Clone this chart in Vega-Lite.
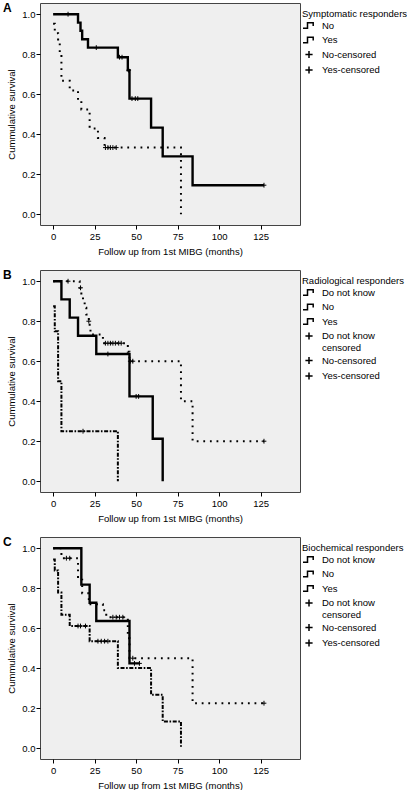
{
  "$schema": "https://vega.github.io/schema/vega-lite/v6.json",
  "padding": {"left": 2, "top": 1, "right": 0, "bottom": 0},
  "background": "white",
  "spacing": 12,
  "config": {
    "font": "Liberation Sans",
    "view": {"fill": "#efefef", "stroke": "#444444", "strokeWidth": 1},
    "axis": {"grid": false, "domain": false, "tickColor": "#000000", "tickSize": 4, "labelColor": "#000000", "titleColor": "#000000", "labelFontSize": 9.5, "titleFontSize": 9.5, "titleFontWeight": "normal", "labelFont": "Liberation Sans", "titleFont": "Liberation Sans"},
    "axisX": {"labelPadding": 2.5, "titlePadding": 5},
    "axisY": {"labelPadding": 1, "titlePadding": 5},
    "title": {"anchor": "start", "frame": "group", "offset": -12, "dx": -37, "baseline": "top", "fontSize": 12, "fontWeight": "bold", "font": "Liberation Sans", "color": "#000000"},
    "legend": {"titleFontSize": 9.5, "titleFontWeight": "normal", "titleColor": "#000000", "labelFontSize": 9.5, "labelColor": "#000000", "titlePadding": 0, "rowPadding": 1.5, "labelOffset": 6, "labelLimit": 200, "titleLimit": 200, "symbolSize": 144, "symbolStrokeColor": "#000000", "orient": "right", "offset": -4, "padding": 6}
  },
  "datasets": {
    "km": [
      {"p":"A","g":"No","k":"s","t":0,"s":0.952},{"p":"A","g":"No","k":"s","t":1,"s":0.905},{"p":"A","g":"No","k":"s","t":3,"s":0.857},{"p":"A","g":"No","k":"s","t":4,"s":0.81},{"p":"A","g":"No","k":"s","t":5,"s":0.667},{"p":"A","g":"No","k":"s","t":10,"s":0.619},{"p":"A","g":"No","k":"s","t":15,"s":0.571},{"p":"A","g":"No","k":"s","t":17,"s":0.524},{"p":"A","g":"No","k":"s","t":22,"s":0.429},{"p":"A","g":"No","k":"s","t":27,"s":0.381},{"p":"A","g":"No","k":"s","t":31,"s":0.333},{"p":"A","g":"No","k":"s","t":77,"s":0},
      {"p":"A","g":"Yes","k":"s","t":0,"s":1},{"p":"A","g":"Yes","k":"s","t":15,"s":0.958},{"p":"A","g":"Yes","k":"s","t":16.5,"s":0.917},{"p":"A","g":"Yes","k":"s","t":17.5,"s":0.875},{"p":"A","g":"Yes","k":"s","t":21,"s":0.833},{"p":"A","g":"Yes","k":"s","t":39,"s":0.785},{"p":"A","g":"Yes","k":"s","t":45,"s":0.72},{"p":"A","g":"Yes","k":"s","t":46,"s":0.578},{"p":"A","g":"Yes","k":"s","t":59,"s":0.433},{"p":"A","g":"Yes","k":"s","t":66,"s":0.289},{"p":"A","g":"Yes","k":"s","t":84,"s":0.145},{"p":"A","g":"Yes","k":"s","t":127,"s":0.145},
      {"p":"A","g":"No-censored","k":"c","t":31.5,"s":0.333},{"p":"A","g":"No-censored","k":"c","t":33,"s":0.333},{"p":"A","g":"No-censored","k":"c","t":34.5,"s":0.333},{"p":"A","g":"No-censored","k":"c","t":36,"s":0.333},{"p":"A","g":"No-censored","k":"c","t":38,"s":0.333},
      {"p":"A","g":"Yes-censored","k":"c","t":9,"s":1},{"p":"A","g":"Yes-censored","k":"c","t":26,"s":0.833},{"p":"A","g":"Yes-censored","k":"c","t":40,"s":0.785},{"p":"A","g":"Yes-censored","k":"c","t":41.5,"s":0.785},{"p":"A","g":"Yes-censored","k":"c","t":45.5,"s":0.72},{"p":"A","g":"Yes-censored","k":"c","t":47.5,"s":0.578},{"p":"A","g":"Yes-censored","k":"c","t":49.5,"s":0.578},{"p":"A","g":"Yes-censored","k":"c","t":51,"s":0.578},{"p":"A","g":"Yes-censored","k":"c","t":127,"s":0.145},

      {"p":"B","g":"Do not know","k":"s","t":0,"s":0.875},{"p":"B","g":"Do not know","k":"s","t":1,"s":0.75},{"p":"B","g":"Do not know","k":"s","t":3,"s":0.5},{"p":"B","g":"Do not know","k":"s","t":5,"s":0.25},{"p":"B","g":"Do not know","k":"s","t":39,"s":0},
      {"p":"B","g":"No","k":"s","t":0,"s":1},{"p":"B","g":"No","k":"s","t":16,"s":0.967},{"p":"B","g":"No","k":"s","t":17,"s":0.933},{"p":"B","g":"No","k":"s","t":18,"s":0.9},{"p":"B","g":"No","k":"s","t":19,"s":0.867},{"p":"B","g":"No","k":"s","t":20,"s":0.833},{"p":"B","g":"No","k":"s","t":21.5,"s":0.8},{"p":"B","g":"No","k":"s","t":22,"s":0.767},{"p":"B","g":"No","k":"s","t":22.5,"s":0.733},{"p":"B","g":"No","k":"s","t":30,"s":0.69},{"p":"B","g":"No","k":"s","t":45,"s":0.647},{"p":"B","g":"No","k":"s","t":46,"s":0.6},{"p":"B","g":"No","k":"s","t":77,"s":0.4},{"p":"B","g":"No","k":"s","t":84,"s":0.2},{"p":"B","g":"No","k":"s","t":127,"s":0.2},
      {"p":"B","g":"Yes","k":"s","t":0,"s":1},{"p":"B","g":"Yes","k":"s","t":5,"s":0.909},{"p":"B","g":"Yes","k":"s","t":10,"s":0.818},{"p":"B","g":"Yes","k":"s","t":15,"s":0.727},{"p":"B","g":"Yes","k":"s","t":26,"s":0.636},{"p":"B","g":"Yes","k":"s","t":46,"s":0.424},{"p":"B","g":"Yes","k":"s","t":60,"s":0.212},{"p":"B","g":"Yes","k":"s","t":66,"s":0},
      {"p":"B","g":"Do not know censored","k":"c","t":18,"s":0.25},
      {"p":"B","g":"No-censored","k":"c","t":9,"s":1},{"p":"B","g":"No-censored","k":"c","t":16.5,"s":0.967},{"p":"B","g":"No-censored","k":"c","t":21.5,"s":0.8},{"p":"B","g":"No-censored","k":"c","t":31.5,"s":0.69},{"p":"B","g":"No-censored","k":"c","t":33,"s":0.69},{"p":"B","g":"No-censored","k":"c","t":34.5,"s":0.69},{"p":"B","g":"No-censored","k":"c","t":36,"s":0.69},{"p":"B","g":"No-censored","k":"c","t":37.5,"s":0.69},{"p":"B","g":"No-censored","k":"c","t":39.5,"s":0.69},{"p":"B","g":"No-censored","k":"c","t":41,"s":0.69},{"p":"B","g":"No-censored","k":"c","t":46.5,"s":0.6},{"p":"B","g":"No-censored","k":"c","t":48,"s":0.6},{"p":"B","g":"No-censored","k":"c","t":127,"s":0.2},
      {"p":"B","g":"Yes-censored","k":"c","t":33,"s":0.636},{"p":"B","g":"Yes-censored","k":"c","t":50,"s":0.424},{"p":"B","g":"Yes-censored","k":"c","t":51.5,"s":0.424},

      {"p":"C","g":"Do not know","k":"s","t":0,"s":0.944},{"p":"C","g":"Do not know","k":"s","t":1,"s":0.889},{"p":"C","g":"Do not know","k":"s","t":3,"s":0.778},{"p":"C","g":"Do not know","k":"s","t":5,"s":0.667},{"p":"C","g":"Do not know","k":"s","t":10,"s":0.611},{"p":"C","g":"Do not know","k":"s","t":22,"s":0.535},{"p":"C","g":"Do not know","k":"s","t":39,"s":0.401},{"p":"C","g":"Do not know","k":"s","t":59,"s":0.267},{"p":"C","g":"Do not know","k":"s","t":66,"s":0.134},{"p":"C","g":"Do not know","k":"s","t":77,"s":0},
      {"p":"C","g":"No","k":"s","t":0,"s":1},{"p":"C","g":"No","k":"s","t":5,"s":0.95},{"p":"C","g":"No","k":"s","t":15,"s":0.842},{"p":"C","g":"No","k":"s","t":17.5,"s":0.775},{"p":"C","g":"No","k":"s","t":21.5,"s":0.72},{"p":"C","g":"No","k":"s","t":30,"s":0.69},{"p":"C","g":"No","k":"s","t":32,"s":0.655},{"p":"C","g":"No","k":"s","t":45,"s":0.55},{"p":"C","g":"No","k":"s","t":46,"s":0.45},{"p":"C","g":"No","k":"s","t":84,"s":0.225},{"p":"C","g":"No","k":"s","t":127,"s":0.225},
      {"p":"C","g":"Yes","k":"s","t":0,"s":1},{"p":"C","g":"Yes","k":"s","t":17,"s":0.818},{"p":"C","g":"Yes","k":"s","t":22,"s":0.727},{"p":"C","g":"Yes","k":"s","t":26,"s":0.636},{"p":"C","g":"Yes","k":"s","t":46,"s":0.424},{"p":"C","g":"Yes","k":"s","t":52,"s":0.424},
      {"p":"C","g":"Do not know censored","k":"c","t":15,"s":0.611},{"p":"C","g":"Do not know censored","k":"c","t":16.5,"s":0.611},{"p":"C","g":"Do not know censored","k":"c","t":19.5,"s":0.611},{"p":"C","g":"Do not know censored","k":"c","t":27,"s":0.535},{"p":"C","g":"Do not know censored","k":"c","t":29,"s":0.535},{"p":"C","g":"Do not know censored","k":"c","t":31,"s":0.535},{"p":"C","g":"Do not know censored","k":"c","t":33,"s":0.535},
      {"p":"C","g":"No-censored","k":"c","t":8,"s":0.95},{"p":"C","g":"No-censored","k":"c","t":10,"s":0.95},{"p":"C","g":"No-censored","k":"c","t":36,"s":0.655},{"p":"C","g":"No-censored","k":"c","t":38,"s":0.655},{"p":"C","g":"No-censored","k":"c","t":40,"s":0.655},{"p":"C","g":"No-censored","k":"c","t":42,"s":0.655},{"p":"C","g":"No-censored","k":"c","t":48,"s":0.45},{"p":"C","g":"No-censored","k":"c","t":127,"s":0.225},
      {"p":"C","g":"Yes-censored","k":"c","t":49,"s":0.424},{"p":"C","g":"Yes-censored","k":"c","t":52,"s":0.424}
    ]
  },
  "data": {"name": "km"},
  "resolve": {"scale": {"shape": "independent", "strokeDash": "independent", "x": "independent", "y": "independent"}, "legend": {"shape": "independent", "strokeDash": "independent"}},
  "vconcat": [
    {
      "width": 260, "height": 222,
      "title": {"text": "A"},
      "transform": [{"filter": "datum.p == 'A'"}],
      "encoding": {
        "x": {"field": "t", "type": "quantitative", "scale": {"domain": [-7.9, 148.7], "nice": false, "zero": false}, "axis": {"values": [0,25,50,75,100,125], "title": "Follow up from 1st MIBG (months)"}},
        "y": {"field": "s", "type": "quantitative", "scale": {"domain": [-0.054, 1.056], "nice": false, "zero": false}, "axis": {"values": [0,0.2,0.4,0.6,0.8,1], "format": ".1f", "title": "Cummulative survival"}}
      },
      "layer": [
        {"transform": [{"filter": "datum.k == 's' && datum.g != 'Yes'"}], "mark": {"type": "line", "interpolate": "step-after", "color": "#000000", "strokeWidth": 2, "strokeCap": "butt"}, "encoding": {"strokeDash": {"field": "g", "type": "nominal", "scale": {"domain": ["No"], "range": [[1.8,4.8]]}, "legend": null}}},
        {"transform": [{"filter": "datum.k == 's' && datum.g == 'Yes'"}], "mark": {"type": "line", "interpolate": "step-after", "color": "#000000", "strokeWidth": 2.4}, "encoding": {}},
        {"transform": [{"filter": "datum.k == 'c'"}], "mark": {"type": "point", "filled": false, "color": "#000000", "size": 64, "strokeWidth": 1, "opacity": 1}, "encoding": {"shape": {"field": "g", "type": "nominal", "scale": {"domain": ["No","Yes","No-censored","Yes-censored"], "range": ["M-1,0.45H-0.25V-0.45H0.7V0.1","M-1,0.45H-0.25V-0.45H0.7V0.1","M-0.6,0H0.6M0,-0.6V0.6","M-0.6,0H0.6M0,-0.6V0.6"]}, "legend": {"title": "Symptomatic responders", "encode": {"symbols": {"update": {"strokeDash": {"signal": "datum.value == 'No' ? [1.5,2.5] : datum.value == 'Do not know' ? [3,1.5,1.5,1.5] : [1,0]"}, "strokeWidth": {"signal": "indexof(['No','Yes','Do not know'], datum.value) >= 0 ? 2 : 1"}, "stroke": {"value": "#000000"}, "fill": {"value": "transparent"}}}}}}}}
      ]
    },
    {
      "width": 260, "height": 222,
      "title": {"text": "B"},
      "transform": [{"filter": "datum.p == 'B'"}],
      "encoding": {
        "x": {"field": "t", "type": "quantitative", "scale": {"domain": [-7.9, 148.7], "nice": false, "zero": false}, "axis": {"values": [0,25,50,75,100,125], "title": "Follow up from 1st MIBG (months)"}},
        "y": {"field": "s", "type": "quantitative", "scale": {"domain": [-0.054, 1.056], "nice": false, "zero": false}, "axis": {"values": [0,0.2,0.4,0.6,0.8,1], "format": ".1f", "title": "Cummulative survival"}}
      },
      "layer": [
        {"transform": [{"filter": "datum.k == 's' && datum.g != 'Yes'"}], "mark": {"type": "line", "interpolate": "step-after", "color": "#000000", "strokeWidth": 2, "strokeCap": "butt"}, "encoding": {"strokeDash": {"field": "g", "type": "nominal", "scale": {"domain": ["Do not know","No"], "range": [[4,1.6,1.6,1.6],[1.8,4.8]]}, "legend": null}}},
        {"transform": [{"filter": "datum.k == 's' && datum.g == 'Yes'"}], "mark": {"type": "line", "interpolate": "step-after", "color": "#000000", "strokeWidth": 2.4}, "encoding": {}},
        {"transform": [{"filter": "datum.k == 'c'"}], "mark": {"type": "point", "filled": false, "color": "#000000", "size": 64, "strokeWidth": 1, "opacity": 1}, "encoding": {"shape": {"field": "g", "type": "nominal", "scale": {"domain": ["Do not know","No","Yes","Do not know censored","No-censored","Yes-censored"], "range": ["M-1,0.45H-0.25V-0.45H0.7V0.1","M-1,0.45H-0.25V-0.45H0.7V0.1","M-1,0.45H-0.25V-0.45H0.7V0.1","M-0.6,0H0.6M0,-0.6V0.6","M-0.6,0H0.6M0,-0.6V0.6","M-0.6,0H0.6M0,-0.6V0.6"]}, "legend": {"title": "Radiological responders", "labelExpr": "datum.label == 'Do not know censored' ? ['Do not know', 'censored'] : datum.label", "encode": {"symbols": {"update": {"strokeDash": {"signal": "datum.value == 'No' ? [1.5,2.5] : datum.value == 'Do not know' ? [3,1.5,1.5,1.5] : [1,0]"}, "strokeWidth": {"signal": "indexof(['No','Yes','Do not know'], datum.value) >= 0 ? 2 : 1"}, "stroke": {"value": "#000000"}, "fill": {"value": "transparent"}}}}}}}}
      ]
    },
    {
      "width": 260, "height": 222,
      "title": {"text": "C"},
      "transform": [{"filter": "datum.p == 'C'"}],
      "encoding": {
        "x": {"field": "t", "type": "quantitative", "scale": {"domain": [-7.9, 148.7], "nice": false, "zero": false}, "axis": {"values": [0,25,50,75,100,125], "title": "Follow up from 1st MIBG (months)"}},
        "y": {"field": "s", "type": "quantitative", "scale": {"domain": [-0.054, 1.056], "nice": false, "zero": false}, "axis": {"values": [0,0.2,0.4,0.6,0.8,1], "format": ".1f", "title": "Cummulative survival"}}
      },
      "layer": [
        {"transform": [{"filter": "datum.k == 's' && datum.g != 'Yes'"}], "mark": {"type": "line", "interpolate": "step-after", "color": "#000000", "strokeWidth": 2, "strokeCap": "butt"}, "encoding": {"strokeDash": {"field": "g", "type": "nominal", "scale": {"domain": ["Do not know","No"], "range": [[4,1.6,1.6,1.6],[1.8,4.8]]}, "legend": null}}},
        {"transform": [{"filter": "datum.k == 's' && datum.g == 'Yes'"}], "mark": {"type": "line", "interpolate": "step-after", "color": "#000000", "strokeWidth": 2.4}, "encoding": {}},
        {"transform": [{"filter": "datum.k == 'c'"}], "mark": {"type": "point", "filled": false, "color": "#000000", "size": 64, "strokeWidth": 1, "opacity": 1}, "encoding": {"shape": {"field": "g", "type": "nominal", "scale": {"domain": ["Do not know","No","Yes","Do not know censored","No-censored","Yes-censored"], "range": ["M-1,0.45H-0.25V-0.45H0.7V0.1","M-1,0.45H-0.25V-0.45H0.7V0.1","M-1,0.45H-0.25V-0.45H0.7V0.1","M-0.6,0H0.6M0,-0.6V0.6","M-0.6,0H0.6M0,-0.6V0.6","M-0.6,0H0.6M0,-0.6V0.6"]}, "legend": {"title": "Biochemical responders", "labelExpr": "datum.label == 'Do not know censored' ? ['Do not know', 'censored'] : datum.label", "encode": {"symbols": {"update": {"strokeDash": {"signal": "datum.value == 'No' ? [1.5,2.5] : datum.value == 'Do not know' ? [3,1.5,1.5,1.5] : [1,0]"}, "strokeWidth": {"signal": "indexof(['No','Yes','Do not know'], datum.value) >= 0 ? 2 : 1"}, "stroke": {"value": "#000000"}, "fill": {"value": "transparent"}}}}}}}}
      ]
    }
  ]
}
